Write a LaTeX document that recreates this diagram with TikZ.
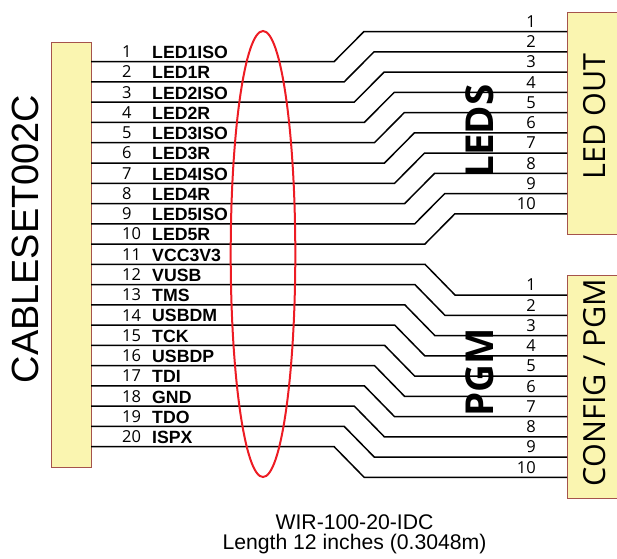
\documentclass[tikz,border=0pt]{standalone}
\usepackage{fontspec}
\setmainfont{Liberation Sans}
\newfontfamily\humanfont{Open Sans}
\definecolor{boxfill}{HTML}{FAF5B0}
\definecolor{boxedge}{HTML}{A5534C}
\definecolor{ringred}{HTML}{ED1C24}
\tikzset{
  connbox/.style={draw=boxedge, fill=boxfill, line width=1pt, minimum width=#1, inner sep=0pt},
  wire/.style={line width=1.5pt, black},
  pinnum/.style={font=\humanfont\fontsize{16.5}{16.5}\selectfont, inner sep=0pt},
  signame/.style={font=\bfseries\fontsize{17.7}{17.7}\selectfont, inner sep=0pt, anchor=west},
  grouplabel/.style={font=\humanfont\bfseries\fontsize{38.5}{38.5}\selectfont, rotate=90, inner sep=0pt},
  boxlabel/.style={font=\humanfont\fontsize{30.5}{30.5}\selectfont, rotate=90, inner sep=0pt}
}
\begin{document}
\begin{tikzpicture}[x=1pt,y=-1pt]
\useasboundingbox (0,0) rectangle (617,558);

% connector bodies
\node[connbox=40pt, minimum height=425pt] (cable) at (71,254.5) {};
\node[connbox=60pt, minimum height=222pt] (ledout) at (597,123) {};
\node[connbox=60pt, minimum height=223pt] (config) at (597,386.5) {};

\node[font=\fontsize{37.9}{37.9}\selectfont, rotate=90, inner sep=0pt] (cablename) at (25.5,239) {CABLESET002C};
\node[boxlabel] (ledname) at (595,116.5) {LED OUT};
\node[boxlabel] (configname) at (595,382.5) {CONFIG / PGM};

% wires, LED group
\foreach \i in {1,...,10} {
  \pgfmathsetmacro{\ya}{61.7+20.26*(\i-1)}
  \pgfmathsetmacro{\yb}{31.5+20.25*(\i-1)}
  \pgfmathsetmacro{\xa}{334+10.1*(\i-1)}
  \coordinate (a\i) at (91,\ya);
  \coordinate (b\i) at (\xa,\ya);
  \coordinate (c\i) at (\xa+30,\yb);
  \coordinate (d\i) at (567,\yb);
  \draw[wire] (a\i) -- (b\i) -- (c\i) -- (d\i);
  \node[pinnum, anchor=east] (ledpin\i) at (536,\yb-10) {\i};
}

% wires, PGM group
\foreach \i in {1,...,10} {
  \pgfmathsetmacro{\ya}{264.3+20.26*(\i-1)}
  \pgfmathsetmacro{\yb}{295+20.25*(\i-1)}
  \pgfmathsetmacro{\xa}{425-10.1*(\i-1)}
  \coordinate (e\i) at (91,\ya);
  \coordinate (f\i) at (\xa,\ya);
  \coordinate (g\i) at (\xa+30,\yb);
  \coordinate (h\i) at (567,\yb);
  \draw[wire] (e\i) -- (f\i) -- (g\i) -- (h\i);
  \node[pinnum, anchor=east] (pgmpin\i) at (536,\yb-10) {\i};
}

% cable pins
\foreach \i/\sig in {1/LED1ISO,2/LED1R,3/LED2ISO,4/LED2R,5/LED3ISO,6/LED3R,7/LED4ISO,8/LED4R,9/LED5ISO,10/LED5R,
  11/VCC3V3,12/VUSB,13/TMS,14/USBDM,15/TCK,16/USBDP,17/TDI,18/GND,19/TDO,20/ISPX} {
  \pgfmathsetmacro{\yn}{51.7+20.26*(\i-1)}
  \node[pinnum, anchor=west] (pin\i) at (122,\yn) {\i};
  \node[signame] (sig\i) at (152,\yn+0.8) {\sig};
}

\draw[ringred, line width=2pt] (263,254) ellipse (32.3 and 223);

\node[grouplabel] (leds) at (480,131) {LEDS};
\node[grouplabel] (pgm) at (480,372) {PGM};

\node[align=center, font=\fontsize{21.2}{20.5}\selectfont, inner sep=0pt] (cabletext) at (354.5,534.5) {WIR-100-20-IDC\\Length 12 inches (0.3048m)};
\end{tikzpicture}
\end{document}
